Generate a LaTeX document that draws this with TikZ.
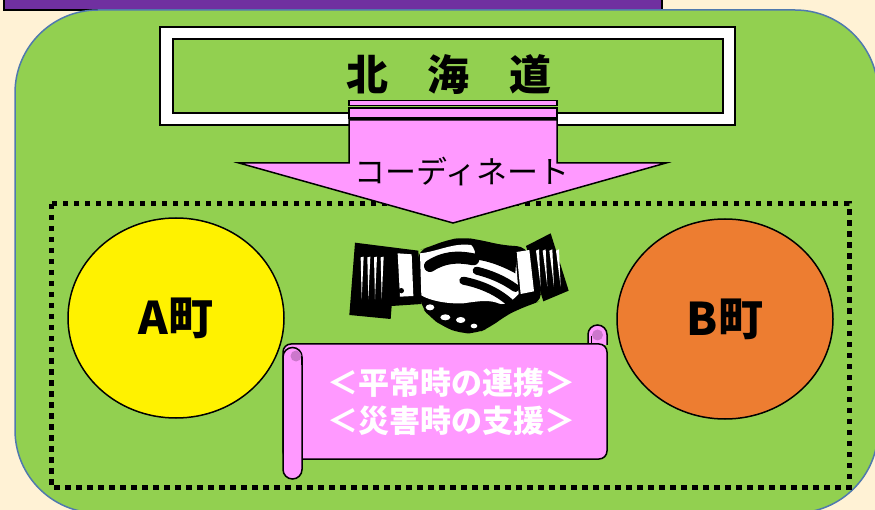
\documentclass[tikz,border=0pt]{standalone}
\usepackage{fontspec}
\setmainfont{Liberation Sans}
\newfontfamily\jp{Noto Sans CJK JP}
\usetikzlibrary{shapes.geometric}
\definecolor{cream}{HTML}{FFF2D5}
\definecolor{royal}{HTML}{7030A0}
\definecolor{leaf}{HTML}{92D050}
\definecolor{rim}{HTML}{4F79AE}
\definecolor{rose}{HTML}{FF99FF}
\definecolor{curl}{HTML}{CC77CC}
\definecolor{amber}{HTML}{ED7D31}
\tikzset{
  ink/.style={draw=black, line width=1.5pt},
  town/.style={ellipse, ink, minimum width=216pt, minimum height=200pt, inner sep=0pt,
    font=\jp\bfseries\fontsize{45}{45}\selectfont},
  dotline/.style={draw=black, line width=5pt, dash pattern=on 5.5pt off 5.5pt},
}
\begin{document}
\begin{tikzpicture}[x=1pt,y=-1pt]
\useasboundingbox (0,0) rectangle (875,510);
\clip (0,0) rectangle (875,510);
\fill[cream] (0,0) rectangle (875,510);
% title bar
\draw[fill=royal, line width=1.5pt] (4,-5) rectangle (662,10);
% green panel
\draw[fill=leaf, draw=rim, line width=1.5pt, rounded corners=83pt] (15,10) rectangle (878,513);
% dotted frame
\draw[dotline] (51,204) rectangle (849,487);

% prefecture box
\node[ink, fill=white, minimum width=575pt, minimum height=98pt, inner sep=0pt] (pref) at (447.5,76) {};
\node[draw=black, line width=2pt, fill=leaf, minimum width=550pt, minimum height=74pt, inner sep=0pt] (prefin) at (448,76) {};
\node[font=\jp\bfseries\fontsize{42}{42}\selectfont] (preftxt) at (449,75) {北\hspace{0.95em}海\hspace{0.95em}道};

% coordination arrow
\draw[ink, fill=rose] (349,100.5) rectangle (557,105.5);
\draw[ink, fill=rose] (349,108) rectangle (557,118);
\draw[ink, fill=rose] (349,120) -- (557,120) -- (557,163) -- (666,163) -- (453,223)
  -- (239,163) -- (349,163) -- cycle;
\node[font=\jp\fontsize{31}{31}\selectfont] (coord) at (462,172) {コーディネート};

% towns
\node[town, fill=yellow] (townA) at (176,318) {A町};
\node[town, fill=amber] (townB) at (725,319) {B町};

% handshake
\begin{scope}[shift={(330,220)}, scale=1/3]
  % silhouette
  \fill[black, rounded corners=10pt] (262,92) -- (300,80) -- (350,60) -- (400,52) -- (450,60)
    -- (520,76) -- (590,80) -- (640,240) -- (600,255) -- (560,270) -- (520,292)
    -- (480,322) -- (440,340) -- (390,340) -- (340,320) -- (300,292) -- (272,258) -- cycle;
  % left sleeve
  \fill[black] (75,68) -- (265,92) -- (275,252) -- (185,258) -- (182,297) -- (58,285) -- cycle;
  \foreach \s in {92,112,132,152}
    \fill[white] (\s,112) -- (\s+9,110) -- (\s+3,238) -- cycle;
  \fill[white] (203,100) -- (245,103) -- (250,228) -- (210,230) -- cycle;
  \fill[black] (214,212) circle (8);
  % right sleeve
  \fill[black] (588,78) -- (662,40) -- (716,212) -- (640,244) -- cycle;
  \foreach \s in {618,638,658,678}
    \fill[white] (\s,92) -- (\s+9,88) -- (\s+14,200) -- cycle;
  \fill[white] (560,96) -- (598,90) -- (612,214) -- (572,222) -- cycle;
  % open hand
  \fill[white] (270,100) .. controls (320,95) and (360,72) .. (410,74)
    .. controls (460,76) and (520,92) .. (556,102) -- (566,222)
    .. controls (540,250) and (520,258) .. (500,248)
    .. controls (470,238) and (430,246) .. (400,250)
    .. controls (350,252) and (300,242) .. (274,226) -- cycle;
  % thumb and fingers of the other hand
  \fill[black] (420,70) .. controls (470,66) and (530,80) .. (560,100)
    -- (556,160) .. controls (520,140) and (470,120) .. (430,118)
    .. controls (440,100) and (435,85) .. (420,70) -- cycle;
  \draw[line width=12pt, line cap=round] (300,138) .. controls (340,112) and (380,108) .. (430,118);
  \draw[line width=8pt, line cap=round] (400,182) .. controls (450,192) and (500,212) .. (540,248);
  \draw[line width=8pt, line cap=round] (440,152) .. controls (480,162) and (520,178) .. (556,204);
  % knuckles
  \fill[white] (300,262) ellipse (13 and 9);
  \fill[white] (346,292) ellipse (15 and 9);
  \fill[white] (392,300) ellipse (14 and 9);
  \fill[white] (432,318) ellipse (10 and 7);
  \fill[white] (285,225) circle (6);
\end{scope}

% scroll: body, right roll, left roll
\draw[ink, fill=rose] (588,345) -- (588,334.5) arc[start angle=180, end angle=360, radius=9.5] -- (607,345);
\fill[curl] (597.5,335) circle (5.5);
\draw[line width=1.2pt] (591.5,336) -- (591.5,345);
\draw[ink, fill=rose, rounded corners=8pt] (283,344) -- (607,344) -- (607,459) -- (283,459) -- cycle;
\draw[ink, fill=rose] (283,357) arc[start angle=180, end angle=360, radius=9.5] -- (302,469.5)
  arc[start angle=0, end angle=180, radius=9.5] -- cycle;
\fill[curl] (296,356) circle (5.5);
\draw[line width=1.2pt] (301.5,356) -- (301.5,365);
\node[align=center, text=white, font=\jp\bfseries\fontsize{31}{38}\selectfont] (note) at (451,402)
  {＜平常時の連携＞\\＜災害時の支援＞};
\end{tikzpicture}
\end{document}
